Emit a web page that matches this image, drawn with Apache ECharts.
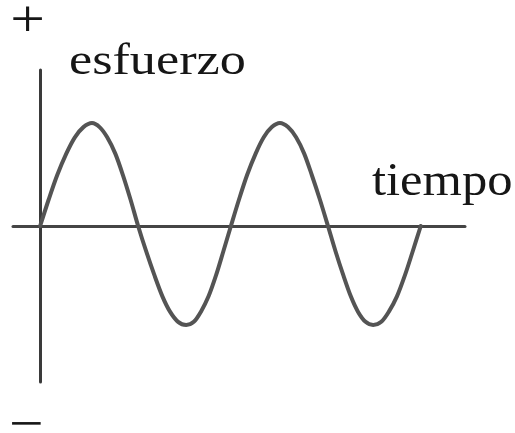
<!DOCTYPE html>
<html>
<head>
<meta charset="utf-8">
<script src="https://cdn.jsdelivr.net/npm/echarts@6/dist/echarts.min.js"></script>
<style>
  html, body { margin: 0; padding: 0; background: #ffffff; }
  #chart { width: 515px; height: 433px; }
</style>
</head>
<body>
<div id="chart"></div>
<script>
// Stress vs. time: two full cycles of an alternating load
const timeValues = [
  0, 0.18, 0.36, 0.55, 0.73, 0.91, 1.09, 1.25, 1.41, 1.58, 1.74, 1.90, 2.06,
  2.23, 2.40, 2.57, 2.73, 2.90, 3.07, 3.23, 3.38, 3.54, 3.70, 3.85, 4.01,
  4.18, 4.35, 4.53, 4.70, 4.87, 5.04, 5.21, 5.38, 5.55, 5.71, 5.88, 6.05,
  6.21, 6.37, 6.53, 6.68, 6.84, 7.00, 7.17, 7.33, 7.50, 7.67, 7.83, 8.00
];
const stressValues = [
  0, 0.26, 0.50, 0.71, 0.87, 0.97, 1.01, 0.97, 0.87, 0.71, 0.50, 0.26, 0,
  -0.25, -0.48, -0.69, -0.84, -0.94, -0.97, -0.94, -0.84, -0.69, -0.48, -0.25, 0,
  0.26, 0.50, 0.71, 0.87, 0.97, 1.01, 0.97, 0.87, 0.71, 0.50, 0.26, 0,
  -0.25, -0.48, -0.69, -0.84, -0.94, -0.97, -0.94, -0.84, -0.69, -0.48, -0.25, 0
];
const yAxisTitle = 'esfuerzo';
const xAxisTitle = 'tiempo';
const plusSign = '+';
const minusSign = '\u2212';

const points = timeValues.map((t, i) => [t, stressValues[i]]);

const chart = echarts.init(document.getElementById('chart'), null, { renderer: 'canvas' });

const serif = '"Liberation Serif", "Times New Roman", serif';
const textColor = '#161616';

chart.setOption({
  animation: false,
  backgroundColor: '#ffffff',
  grid: { left: 13, right: 50, top: 70, bottom: 51, containLabel: false },
  xAxis: {
    type: 'value',
    min: -0.57,
    max: 8.93,
    axisLine: { show: true, onZero: true, lineStyle: { color: '#454545', width: 3 } },
    axisTick: { show: false },
    axisLabel: { show: false },
    splitLine: { show: false }
  },
  yAxis: {
    type: 'value',
    min: -1.53,
    max: 1.53,
    axisLine: { show: true, onZero: true, lineStyle: { color: '#3a3a3a', width: 3 } },
    axisTick: { show: false },
    axisLabel: { show: false },
    splitLine: { show: false }
  },
  series: [{
    type: 'line',
    data: points,
    smooth: 0.3,
    showSymbol: false,
    lineStyle: { color: '#545454', width: 4, join: 'round', cap: 'round' },
    z: 3
  }],
  graphic: [
    {
      type: 'text', x: 27.5, y: 22.5, scaleX: 1.16,
      style: { text: plusSign, font: '53px ' + serif, fill: textColor, align: 'center', verticalAlign: 'middle' }
    },
    {
      type: 'text', x: 26.5, y: 427, scaleX: 1.16,
      style: { text: minusSign, font: '53px ' + serif, fill: textColor, align: 'center', verticalAlign: 'middle' }
    },
    {
      type: 'text', x: 69, y: 62, scaleX: 1.16,
      style: { text: yAxisTitle, font: '45px ' + serif, fill: textColor, align: 'left', verticalAlign: 'middle' }
    },
    {
      type: 'text', x: 372, y: 183, scaleX: 1.1,
      style: { text: xAxisTitle, font: '46px ' + serif, fill: textColor, align: 'left', verticalAlign: 'middle' }
    }
  ]
});
</script>
</body>
</html>
